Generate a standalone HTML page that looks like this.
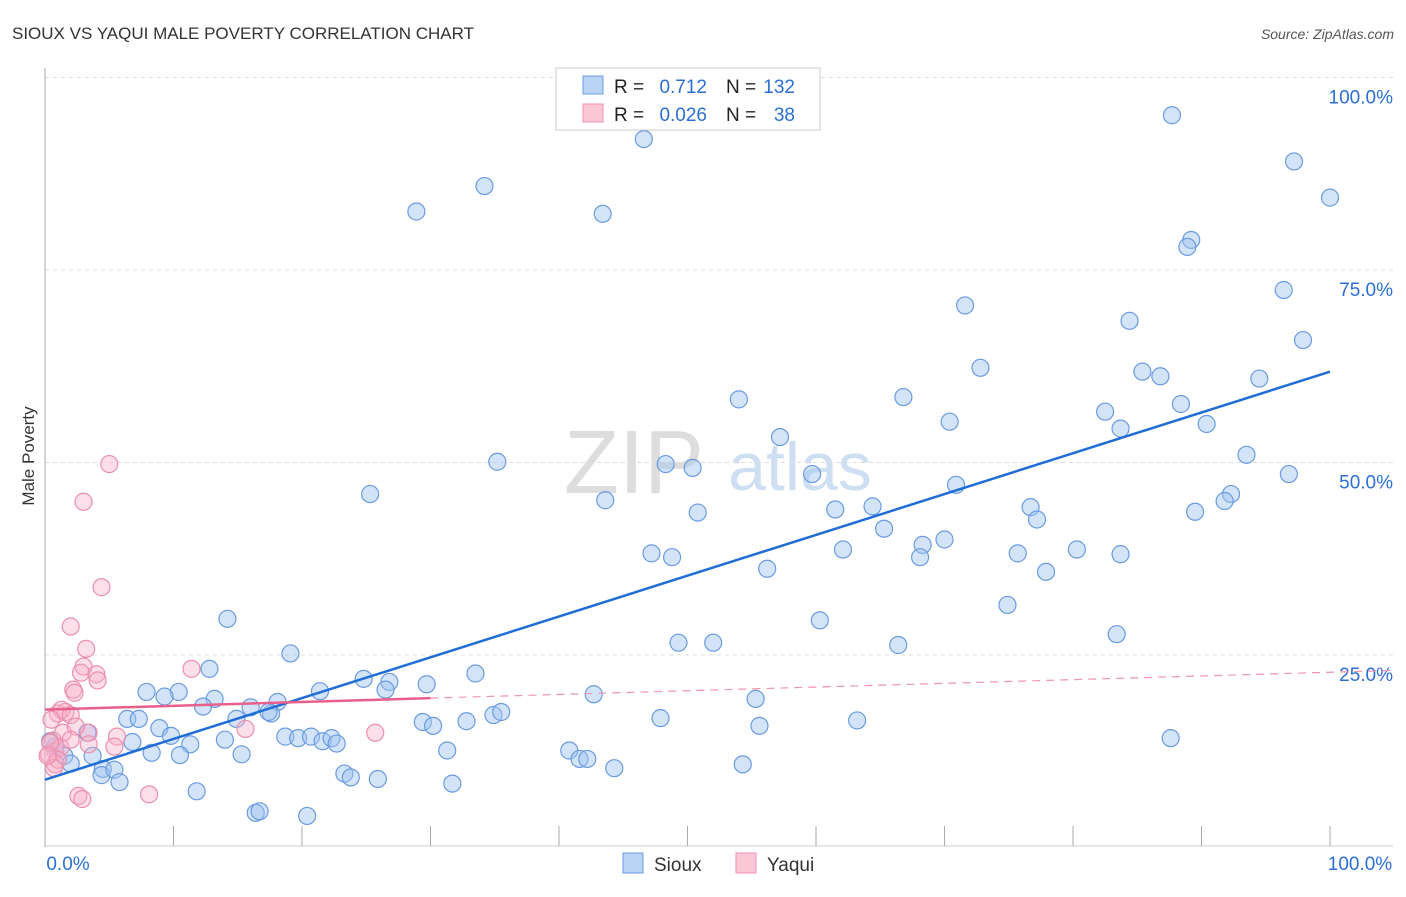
<!DOCTYPE html>
<html><head><meta charset="utf-8"><style>
body{margin:0;background:#fff;font-family:"Liberation Sans",sans-serif;}
svg text{font-family:"Liberation Sans",sans-serif;}
</style></head><body>
<svg id="chart" width="1406" height="892">
<text x="12" y="39" font-size="17" fill="#333">SIOUX VS YAQUI MALE POVERTY CORRELATION CHART</text>
<text x="1394" y="39" font-size="14" fill="#555" font-style="italic" text-anchor="end">Source: ZipAtlas.com</text>
<text x="34" y="456" font-size="17" fill="#333" transform="rotate(-90 34 456)" text-anchor="middle">Male Poverty</text>
<text x="634" y="493" font-size="90" fill="#ddd" font-family="Liberation Serif" text-anchor="middle">ZIP</text>
<text x="800" y="490" font-size="68" fill="#cfdff3" text-anchor="middle">atlas</text>
<g id="grid"></g><g id="marks"></g>
<g>
<rect x="556" y="68" width="264" height="62" fill="#fff" stroke="#ccc"/>
<rect x="583" y="76" width="20" height="18" fill="#b9d3f5" stroke="#6d9de0"/>
<rect x="583" y="104" width="20" height="18" fill="#fbc7d6" stroke="#ee93b0"/>
<text x="614" y="93" font-size="19" fill="#222">R =</text>
<text x="707" y="93" font-size="19" fill="#2b6fd6" text-anchor="end">0.712</text>
<text x="726" y="93" font-size="19" fill="#222">N =</text>
<text x="795" y="93" font-size="19" fill="#2b6fd6" text-anchor="end">132</text>
<text x="614" y="121" font-size="19" fill="#222">R =</text>
<text x="707" y="121" font-size="19" fill="#2b6fd6" text-anchor="end">0.026</text>
<text x="726" y="121" font-size="19" fill="#222">N =</text>
<text x="795" y="121" font-size="19" fill="#2b6fd6" text-anchor="end">38</text>
</g>
<g>
<rect x="623" y="853" width="20" height="20" fill="#b9d3f5" stroke="#6d9de0"/>
<text x="654" y="871" font-size="19" fill="#333">Sioux</text>
<rect x="736" y="853" width="20" height="20" fill="#fbc7d6" stroke="#ee93b0"/>
<text x="767" y="871" font-size="19" fill="#333">Yaqui</text>
</g>
</svg>
<script>
const xTicks=[0,10,20,30,40,50,60,70,80,90,100];
const yTicks=[25,50,75,100];
const siouxX=[87.7,46.6,97.2,100,34.2,28.9,43.4,89.2,88.9,96.4,71.6,97.9,84.4,72.8,85.4,86.8,94.5,54,66.8,88.4,82.5,70.4,90.4,83.7,57.2,93.5,35.2,48.3,50.4,59.7,96.8,25.3,43.6,92.3,91.8,70.9,76.7,50.8,61.5,64.4,89.5,77.2,65.3,70,68.3,62.1,80.3,47.2,75.7,83.7,48.8,68.1,56.2,77.9,74.9,14.2,60.3,83.4,49.3,52,66.4,19.1,12.8,33.5,24.8,26.8,7.9,10.4,21.4,29.7,26.5,9.3,42.7,13.2,18.1,12.3,16,55.3,6.4,7.3,14.9,17.6,17.4,29.4,30.2,32.8,34.9,35.5,47.9,63.2,3.3,8.9,9.8,18.7,19.7,20.7,21.6,22.3,22.7,6.8,11.3,14,8.3,10.5,15.3,31.3,40.8,41.6,42.2,55.6,87.6,44.3,54.3,3.7,1.5,2,0.8,0.4,4.5,4.4,5.4,5.8,23.3,25.9,31.7,23.8,11.8,16.4,16.7,20.4];
const siouxY=[95.1,92,89.1,84.4,85.9,82.6,82.3,78.9,78,72.4,70.4,65.9,68.4,62.3,61.8,61.2,60.9,58.2,58.5,57.6,56.6,55.3,55,54.4,53.3,51,50.1,49.8,49.3,48.5,48.5,45.9,45.1,45.9,45,47.1,44.2,43.5,43.9,44.3,43.6,42.6,41.4,40,39.3,38.7,38.7,38.2,38.2,38.1,37.7,37.7,36.2,35.8,31.5,29.7,29.5,27.7,26.6,26.6,26.3,25.2,23.2,22.6,21.9,21.5,20.2,20.2,20.3,21.2,20.5,19.6,19.9,19.3,18.9,18.3,18.2,19.3,16.7,16.7,16.7,17.4,17.6,16.3,15.8,16.4,17.2,17.6,16.8,16.5,14.9,15.5,14.5,14.4,14.2,14.4,13.8,14.2,13.5,13.7,13.4,14,12.3,12,12.1,12.6,12.6,11.5,11.5,15.8,14.2,10.3,10.8,11.9,11.9,10.9,13.1,13.8,10.2,9.4,10.1,8.5,9.6,8.9,8.3,9.1,7.3,4.5,4.7,4.1];
const yaquiX=[5,3,4.4,2,3.2,3,2.8,4,4.1,11.4,2.2,2.3,1.6,1,1.3,2,0.5,1.4,3.4,0.6,0.8,1.2,5.6,2.4,3.4,0.3,0.8,2.6,2.9,8.1,25.7,15.6,0.4,1,2,5.4,0.7,0.2];
const yaquiY=[49.8,44.9,33.8,28.7,25.8,23.5,22.7,22.5,21.7,23.2,20.5,20.1,17.6,17.4,17.9,17.2,16.6,14.9,14.9,13.9,12.5,13,14.4,15.7,13.4,12.1,10.8,6.7,6.3,6.9,14.9,15.4,13.6,11.4,14,13.1,10.3,11.9];
const siouxTrend=[8.8,61.8];
const yaquiTrend=[17.9,19.4,23];
const X=v=>45+v*12.85, Y=v=>847.5-v*7.7;
const ns='http://www.w3.org/2000/svg';
const grid=document.getElementById('grid'), marks=document.getElementById('marks');
function mk(tag,at,par){const e=document.createElementNS(ns,tag);for(const k in at)e.setAttribute(k,at[k]);par.appendChild(e);return e;}
yTicks.forEach(t=>{
 const l=mk('line',{x1:45,x2:1393,y1:Y(t),y2:Y(t),stroke:'#ddd','stroke-dasharray':'4,4'},grid);
 
 
 const tx=mk('text',{x:1393,y:Y(t)+26,'font-size':19,fill:'#2b6fd6','text-anchor':'end'},grid);tx.textContent=t.toFixed(1)+'%';
 
 
});
const ax=mk('line',{x1:45,x2:45,y1:68,y2:847,stroke:'#aaa'},grid);


const bx=mk('line',{x1:45,x2:1393,y1:846,y2:846,stroke:'#ccc'},grid);


xTicks.forEach(t=>{if(t>0){const l=mk('line',{x1:X(t),x2:X(t),y1:826,y2:846,stroke:'#aaa'},grid);
 
 }});
[[0,'0.0%',68],[100,'100.0%',1360]].forEach(([v,s,px])=>{const tx=mk('text',{x:px,y:870,'font-size':19,fill:'#2b6fd6','text-anchor':'middle'},grid);tx.textContent=s;
 
 });
siouxX.forEach((x,i)=>{const c=mk('circle',{cx:X(x),cy:Y(siouxY[i]),r:8.5,fill:'rgba(160,195,240,0.45)',stroke:'#6a9be0','stroke-width':1.2},marks);
 
 });
yaquiX.forEach((x,i)=>{const c=mk('circle',{cx:X(x),cy:Y(yaquiY[i]),r:8.5,fill:'rgba(248,175,200,0.4)',stroke:'#ec8fae','stroke-width':1.2},marks);
 
 });
const bl=mk('line',{x1:X(0),y1:Y(siouxTrend[0]),x2:X(100),y2:Y(siouxTrend[1]),stroke:'#1f6ed8','stroke-width':2.5},marks);


const pl=mk('line',{x1:X(0),y1:Y(yaquiTrend[0]),x2:X(30),y2:Y(yaquiTrend[1]),stroke:'#e8608a','stroke-width':2.5},marks);


const pd=mk('line',{x1:X(30),y1:Y(yaquiTrend[1]),x2:X(105),y2:Y(yaquiTrend[2]),stroke:'#ee93b0','stroke-width':1.2,'stroke-dasharray':'8,6'},marks);


</script>
</body></html>
